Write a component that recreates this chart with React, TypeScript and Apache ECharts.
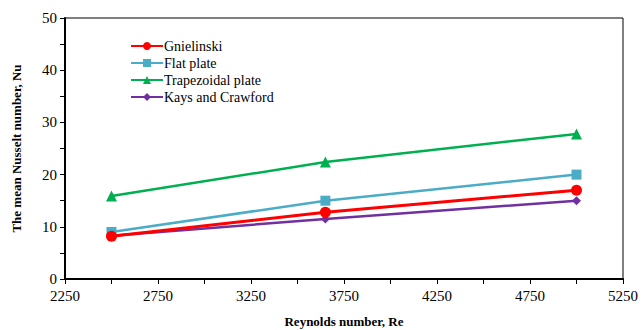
import React, { useEffect, useRef } from "react";
import * as echarts from "echarts";

const reynolds = [2500, 3650, 5000];
const gnielinski = [8.2, 12.8, 17.0];
const flatPlate = [9.0, 15.0, 20.0];
const trapezoidal = [15.9, 22.4, 27.8];
const kaysCrawford = [8.3, 11.5, 15.0];

const seriesNames = ["Gnielinski", "Flat plate", "Trapezoidal plate", "Kays and Crawford"];
const seriesColors = ["#FF0000", "#4BACC6", "#00B050", "#7030A0"];
const seriesSymbols = ["circle", "rect", "triangle", "diamond"];
const seriesSizes = [11, 10, 11, 9];
const seriesData = [gnielinski, flatPlate, trapezoidal, kaysCrawford];

const FONT = "Liberation Serif, DejaVu Serif, serif";

export default function App() {
  const ref = useRef<HTMLDivElement>(null);
  useEffect(() => {
    if (!ref.current) return;
    const chart = echarts.init(ref.current, undefined, { renderer: "svg" });
    chart.setOption({
      animation: false,
      backgroundColor: "#ffffff",
      textStyle: { fontFamily: FONT },
      grid: {
        left: 65,
        right: 18,
        top: 18,
        bottom: 51,
        show: true,
        borderColor: "#000",
        borderWidth: 1,
        containLabel: false,
        outerBoundsMode: "none",
      },
      legend: {
        orient: "vertical",
        left: 125,
        top: 34,
        itemWidth: 32,
        itemHeight: 10,
        itemGap: 3,
        textStyle: { fontFamily: FONT, fontSize: 14, color: "#000", padding: [0, 0, 0, -4] },
        data: seriesNames,
      },
      xAxis: {
        type: "value",
        min: 2250,
        max: 5250,
        interval: 500,
        name: "Reynolds number, Re",
        nameLocation: "middle",
        nameGap: 36,
        nameTextStyle: { fontFamily: FONT, fontSize: 13, fontWeight: "bold", color: "#000" },
        axisLine: { show: true, lineStyle: { color: "#000", width: 2 } },
        axisTick: { show: true, length: 5, lineStyle: { color: "#000", width: 1 } },
        minorTick: { show: true, splitNumber: 2, length: 5, lineStyle: { color: "#000", width: 1 } },
        axisLabel: { fontFamily: FONT, fontSize: 15, color: "#000", margin: 9, formatter: (v: number) => String(v) },
        splitLine: { show: false },
      },
      yAxis: {
        type: "value",
        min: 0,
        max: 50,
        interval: 10,
        name: "The mean Nusselt number, Nu",
        nameLocation: "middle",
        nameGap: 42,
        nameTextStyle: { fontFamily: FONT, fontSize: 13, fontWeight: "bold", color: "#000" },
        axisLine: { show: true, lineStyle: { color: "#000", width: 2 } },
        axisTick: { show: true, length: 5, lineStyle: { color: "#000", width: 1 } },
        minorTick: { show: true, splitNumber: 2, length: 5, lineStyle: { color: "#000", width: 1 } },
        axisLabel: { fontFamily: FONT, fontSize: 15, color: "#000", margin: 8 },
        splitLine: { show: false },
      },
      series: seriesNames.map((name, i) => ({
        name,
        type: "line",
        data: reynolds.map((x, j) => [x, seriesData[i][j]]),
        symbol: seriesSymbols[i],
        symbolSize: seriesSizes[i],
        showSymbol: true,
        lineStyle: { color: seriesColors[i], width: i === 0 ? 3 : 2.5 },
        itemStyle: { color: seriesColors[i] },
        z: i === 0 ? 3 : 2,
      })),
    });
    return () => chart.dispose();
  }, []);
  return <div ref={ref} style={{ width: 641, height: 330, position: "absolute", left: 0, top: 0 }} />;
}
